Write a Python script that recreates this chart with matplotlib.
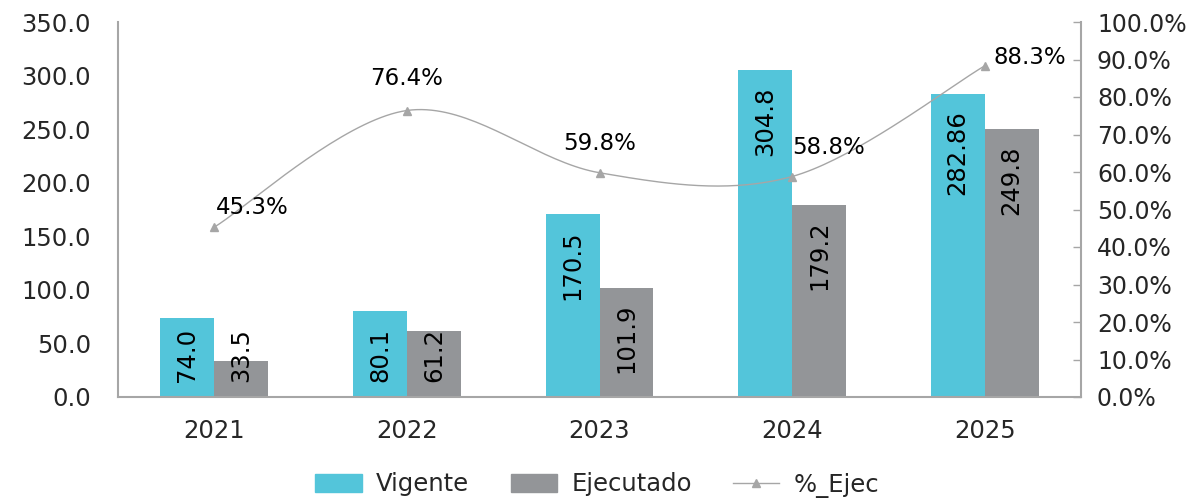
import numpy as np
import matplotlib
matplotlib.use("Agg")
import matplotlib.pyplot as plt
from matplotlib.patches import Patch
from matplotlib.lines import Line2D
from matplotlib.ticker import FuncFormatter, MultipleLocator

# data
years = ["2021", "2022", "2023", "2024", "2025"]
vigente = [74.0, 80.1, 170.5, 304.8, 282.86]
ejecutado = [33.5, 61.2, 101.9, 179.2, 249.8]
pct_ejec = [45.3, 76.4, 59.8, 58.8, 88.3]

vig_labels = ["74.0", "80.1", "170.5", "304.8", "282.86"]
eje_labels = ["33.5", "61.2", "101.9", "179.2", "249.8"]

col_vig = "#53C5DA"
col_eje = "#939598"
col_line = "#A6A6A6"

plt.rcParams["font.family"] = ["DejaVu Sans"]


def smooth_curve(xs, ys, n=40):
    # excel-like smoothed line (catmull-rom as cubic bezier)
    pts = np.column_stack([xs, ys]).astype(float)
    out = []
    for i in range(len(pts) - 1):
        p0 = pts[i - 1] if i > 0 else pts[i]
        p1 = pts[i]
        p2 = pts[i + 1]
        p3 = pts[i + 2] if i + 2 < len(pts) else pts[i + 1]
        c1 = p1 + (p2 - p0) / 6.0
        c2 = p2 - (p3 - p1) / 6.0
        t = np.linspace(0, 1, n)[:, None]
        seg = ((1 - t) ** 3) * p1 + 3 * ((1 - t) ** 2) * t * c1 + 3 * (1 - t) * t ** 2 * c2 + t ** 3 * p2
        out.append(seg if i == 0 else seg[1:])
    out = np.vstack(out)
    return out[:, 0], out[:, 1]


fig = plt.figure(figsize=(11.95, 5), dpi=100)
ax = fig.add_axes([118 / 1195, 1 - 397 / 500, (1081 - 118) / 1195, (397 - 22) / 500])
ax2 = ax.twinx()

x = np.arange(len(years))
w = 0.28
b1 = ax.bar(x - w / 2, vigente, w, color=col_vig, zorder=2)
b2 = ax.bar(x + w / 2, ejecutado, w, color=col_eje, zorder=2)

ax.set_xlim(-0.5, len(years) - 0.5)
ax.set_ylim(0, 350)
ax.yaxis.set_major_locator(MultipleLocator(50))
ax.yaxis.set_major_formatter(FuncFormatter(lambda v, p: f"{v:.1f}"))
ax.set_xticks(x)
ax.set_xticklabels(years)
ax.tick_params(axis="y", length=0, pad=19.5, labelsize=17.5, labelcolor="#262626")
ax.tick_params(axis="x", length=0, pad=16, labelsize=17.5, labelcolor="#262626")

for s in ["top", "right"]:
    ax.spines[s].set_visible(False)
for s in ["left", "bottom"]:
    ax.spines[s].set_color(col_line)
    ax.spines[s].set_linewidth(1.5)

# rotated value labels inside the bars
for xs, vals, labs in [(x - w / 2, vigente, vig_labels), (x + w / 2, ejecutado, eje_labels)]:
    for xi, v, lab in zip(xs, vals, labs):
        if v < 95:
            ax.annotate(lab, (xi, 0), xytext=(0, 11), textcoords="offset points",
                        rotation=90, ha="center", va="bottom", fontsize=17.5, color="black", zorder=3)
        else:
            ax.annotate(lab, (xi, v), xytext=(0, -11.5), textcoords="offset points",
                        rotation=90, ha="center", va="top", fontsize=17.5, color="black", zorder=3)

# percent line on secondary axis
sx, sy = smooth_curve(x, pct_ejec)
ax2.plot(sx, sy, color=col_line, lw=1.0, zorder=4)
ax2.plot(x, pct_ejec, ls="none", marker="^", ms=6, color=col_line, zorder=5)
ax2.set_ylim(0, 100)
ax2.yaxis.set_major_locator(MultipleLocator(10))
ax2.yaxis.set_major_formatter(FuncFormatter(lambda v, p: f"{v:.1f}%"))
ax2.tick_params(axis="y", direction="in", length=6, width=1, color=col_line,
                pad=11.5, labelsize=17, labelcolor="#262626")
for s in ["top", "left", "bottom"]:
    ax2.spines[s].set_visible(False)
ax2.spines["right"].set_color(col_line)
ax2.spines["right"].set_linewidth(1.5)

pct_offsets = [(1, 14, "left"), (0, 23, "center"), (0, 21, "center"), (0, 21, "left"), (6, 6, "left")]
for xi, p, (dx, dy, ha) in zip(x, pct_ejec, pct_offsets):
    ax2.annotate(f"{p:.1f}%", (xi, p), xytext=(dx, dy), textcoords="offset points",
                 ha=ha, va="center", fontsize=16.5, color="black", zorder=6)

handles = [
    Patch(color=col_vig, label="Vigente"),
    Patch(color=col_eje, label="Ejecutado"),
    Line2D([0], [0], color=col_line, lw=1.0, marker="^", ms=6, label="%_Ejec"),
]
fig.legend(handles=handles, loc="center", bbox_to_anchor=(0.5, 1 - 485 / 500), ncol=3,
           frameon=False, fontsize=17.5, handlelength=1.9, handleheight=0.7,
           handletextpad=0.6, columnspacing=1.7, labelcolor="#262626")

fig.savefig("out.png", dpi=100)
